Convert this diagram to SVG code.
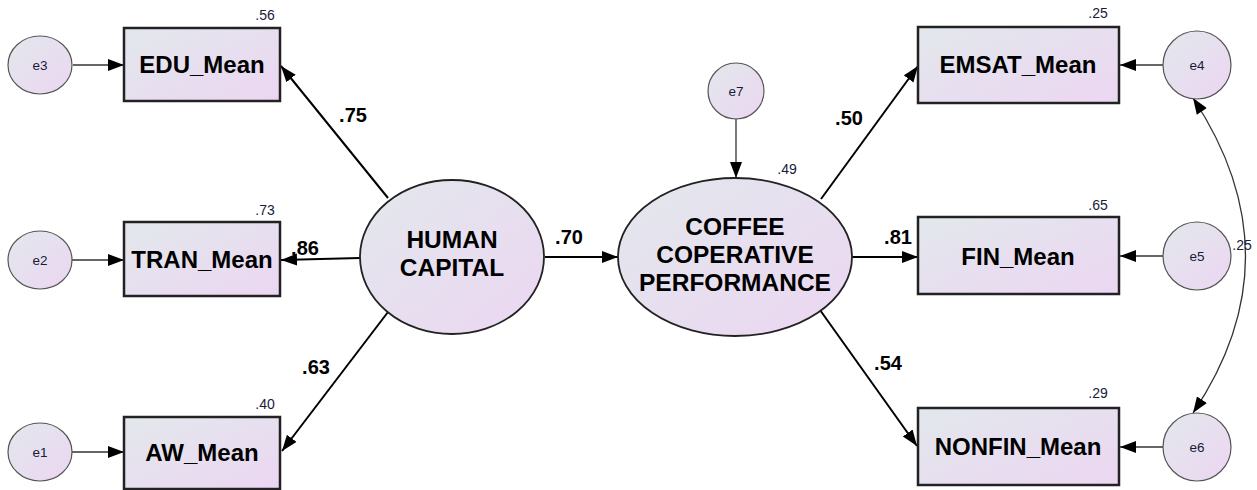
<svg xmlns="http://www.w3.org/2000/svg" width="1257" height="490" viewBox="0 0 1257 490">
<defs>
<linearGradient id="g" x1="0" y1="0" x2="1" y2="1">
<stop offset="0" stop-color="#e2e8ec"/>
<stop offset="1" stop-color="#ecd6f2"/>
</linearGradient>
<marker id="ah" markerUnits="userSpaceOnUse" markerWidth="18" markerHeight="14" refX="16" refY="6" orient="auto">
<path d="M0,0 L16,6 L0,12 z" fill="#000"/>
</marker>
<marker id="ahs" markerUnits="userSpaceOnUse" markerWidth="18" markerHeight="14" refX="0" refY="6" orient="auto">
<path d="M16,0 L0,6 L16,12 z" fill="#000"/>
</marker>
<style>
.box{fill:url(#g);stroke:#222;stroke-width:2.5}
.lat{fill:url(#g);stroke:#222;stroke-width:1.8}
.err{fill:url(#g);stroke:#555;stroke-width:1.2}
.t{font-family:"Liberation Sans",Arial,sans-serif;font-weight:bold;font-size:24px;fill:#000;text-anchor:middle}
.l{font-family:"Liberation Sans",Arial,sans-serif;font-weight:bold;font-size:24.5px;fill:#000;text-anchor:middle}
.c{font-family:"Liberation Sans",Arial,sans-serif;font-weight:bold;font-size:20px;fill:#000;text-anchor:middle}
.s{font-family:"Liberation Sans",Arial,sans-serif;font-size:14px;fill:#1a1a3a;text-anchor:middle}
.e{font-family:"Liberation Sans",Arial,sans-serif;font-size:13.5px;fill:#1a1a3a;text-anchor:middle}
.ln{stroke:#000;stroke-width:2;fill:none;marker-end:url(#ah)}
.ln1{stroke:#333;stroke-width:1.3;fill:none;marker-end:url(#ah)}
</style>
</defs>
<rect width="1257" height="490" fill="#fff"/>
<g id="connectors">
<line class="ln1" x1="73" y1="65" x2="124" y2="65"/>
<line class="ln1" x1="72" y1="260" x2="124" y2="260"/>
<line class="ln1" x1="72" y1="452" x2="124" y2="452"/>
<line class="ln" x1="388" y1="198" x2="281" y2="66"/>
<line class="ln" x1="360" y1="258" x2="281" y2="260"/>
<line class="ln" x1="388" y1="312" x2="282" y2="451"/>
<line class="ln" x1="545" y1="257" x2="618" y2="257"/>
<line class="ln1" x1="736" y1="119" x2="736" y2="178"/>
<line class="ln" x1="821" y1="199" x2="918" y2="66"/>
<line class="ln" x1="852" y1="257" x2="918" y2="257"/>
<line class="ln" x1="820" y1="310" x2="917" y2="446"/>
<line class="ln1" x1="1163" y1="65" x2="1120" y2="65"/>
<line class="ln1" x1="1163" y1="256" x2="1120" y2="256"/>
<line class="ln1" x1="1163" y1="447" x2="1120" y2="447"/>
<path d="M1193,98 Q1298,257 1193,413" stroke="#333" stroke-width="1.3" fill="none" marker-start="url(#ahs)" marker-end="url(#ah)"/>
<text class="c" x="353" y="122">.75</text>
<text class="c" x="305" y="255">.86</text>
<text class="c" x="316" y="374">.63</text>
<text class="c" x="569" y="244">.70</text>
<text class="c" x="849" y="125">.50</text>
<text class="c" x="898" y="244">.81</text>
<text class="c" x="888" y="370">.54</text>
<text class="s" x="1242" y="250">.25</text>
</g>
<g id="e3"><ellipse class="err" cx="40" cy="65" rx="32" ry="29"/><text class="e" x="40" y="70">e3</text></g>
<g id="e2"><ellipse class="err" cx="40" cy="260" rx="32" ry="29"/><text class="e" x="40" y="265">e2</text></g>
<g id="e1"><ellipse class="err" cx="40" cy="452" rx="32" ry="29"/><text class="e" x="40" y="457">e1</text></g>
<g id="EDU_Mean"><rect class="box" x="124" y="28" width="156" height="73"/><text class="t" x="202" y="73">EDU_Mean</text><text class="s" x="265" y="20">.56</text></g>
<g id="TRAN_Mean"><rect class="box" x="124" y="222" width="156" height="74"/><text class="t" x="202" y="268">TRAN_Mean</text><text class="s" x="265" y="215">.73</text></g>
<g id="AW_Mean"><rect class="box" x="124" y="417" width="156" height="72"/><text class="t" x="202" y="461">AW_Mean</text><text class="s" x="265" y="409">.40</text></g>
<g id="HUMAN_CAPITAL"><ellipse class="lat" cx="452" cy="257" rx="92" ry="77"/><text class="l" x="452" y="248">HUMAN</text><text class="l" x="452" y="276">CAPITAL</text></g>
<g id="e7"><circle class="err" cx="736" cy="91" r="28"/><text class="e" x="736" y="96">e7</text></g>
<g id="COFFEE_COPERATIVE_PERFORMANCE"><ellipse class="lat" cx="735" cy="257" rx="117" ry="79"/><text class="l" x="735" y="235">COFFEE</text><text class="l" x="735" y="263">COPERATIVE</text><text class="l" x="735" y="291">PERFORMANCE</text><text class="s" x="787" y="174">.49</text></g>
<g id="EMSAT_Mean"><rect class="box" x="918" y="27" width="201" height="76"/><text class="t" x="1018" y="73">EMSAT_Mean</text><text class="s" x="1098" y="18">.25</text></g>
<g id="FIN_Mean"><rect class="box" x="918" y="217" width="201" height="77"/><text class="t" x="1018" y="265">FIN_Mean</text><text class="s" x="1098" y="210">.65</text></g>
<g id="NONFIN_Mean"><rect class="box" x="918" y="408" width="201" height="77"/><text class="t" x="1018" y="455">NONFIN_Mean</text><text class="s" x="1098" y="398">.29</text></g>
<g id="e4"><circle class="err" cx="1197" cy="65" r="34"/><text class="e" x="1197" y="70">e4</text></g>
<g id="e5"><circle class="err" cx="1197" cy="256" r="34"/><text class="e" x="1197" y="261">e5</text></g>
<g id="e6"><circle class="err" cx="1197" cy="447" r="34"/><text class="e" x="1197" y="452">e6</text></g>
</svg>
